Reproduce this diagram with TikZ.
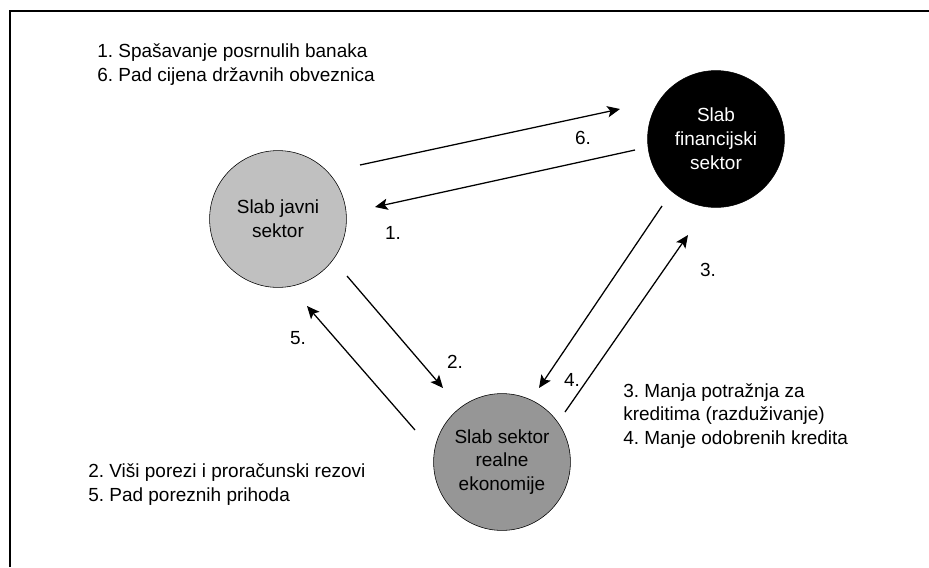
\documentclass[tikz,border=0pt]{standalone}
\usepackage{fontspec}
\setmainfont{Liberation Sans}
\frenchspacing
\usetikzlibrary{arrows.meta, positioning}

\definecolor{javnigray}{RGB}{192,192,192}
\definecolor{realgray}{RGB}{150,150,150}

\tikzset{
  sector/.style={circle, draw, thin, minimum size=3.42cm, inner sep=0pt, align=center,
    font=\fontsize{13.5}{17}\selectfont},
  note/.style={anchor=west, inner sep=0pt, align=left, font=\fontsize{13.5}{17}\selectfont},
  num/.style={inner sep=0pt, font=\fontsize{13.5}{16}\selectfont}
}

\begin{document}
\begin{tikzpicture}[x=0.025cm, y=-0.025cm, >={Stealth[length=9pt, width=8pt, inset=2pt]}]
\useasboundingbox (0,0) rectangle (929,567);
\draw[line width=1.1pt] (10,567) -- (10,11) -- (929,11);

\node[sector, fill=javnigray] (javni) at (278,219) {Slab javni\\sektor};
\node[sector, fill=black, text=white] (fin) at (716,139) {Slab\\financijski\\sektor};
\node[sector, fill=realgray] (real) at (502,462) {Slab sektor\\realne\\ekonomije};

\node[note] (n16) at (97,65) {1. Spašavanje posrnulih banaka\\6. Pad cijena državnih obveznica};
\node[note] (n25) at (88,485) {2. Viši porezi i proračunski rezovi\\5. Pad poreznih prihoda};
\node[note] (n34) at (623,416) {3. Manja potražnja za\\kreditima (razduživanje)\\4. Manje odobrenih kredita};

\coordinate (j6) at (360,165);
\coordinate (f6) at (620,109);
\coordinate (f1) at (635,150);
\coordinate (j1) at (375,207);
\coordinate (j2) at (347,276);
\coordinate (r2) at (443,388);
\coordinate (r5) at (415,430);
\coordinate (j5) at (307,306);
\coordinate (f4) at (662,206);
\coordinate (r4) at (539,388);
\coordinate (r3) at (565,412);
\coordinate (f3) at (688,235);

\foreach \s/\e in {j6/f6, f1/j1, j2/r2, r5/j5, f4/r4, r3/f3}
  \draw[line width=0.9pt, ->] (\s) -- (\e);

\node[num] (l6) at (583,138) {6.};
\node[num] (l1) at (393,233) {1.};
\node[num] (l2) at (455,362) {2.};
\node[num] (l5) at (298,338) {5.};
\node[num] (l4) at (572,380) {4.};
\node[num] (l3) at (708,270) {3.};
\end{tikzpicture}
\end{document}
